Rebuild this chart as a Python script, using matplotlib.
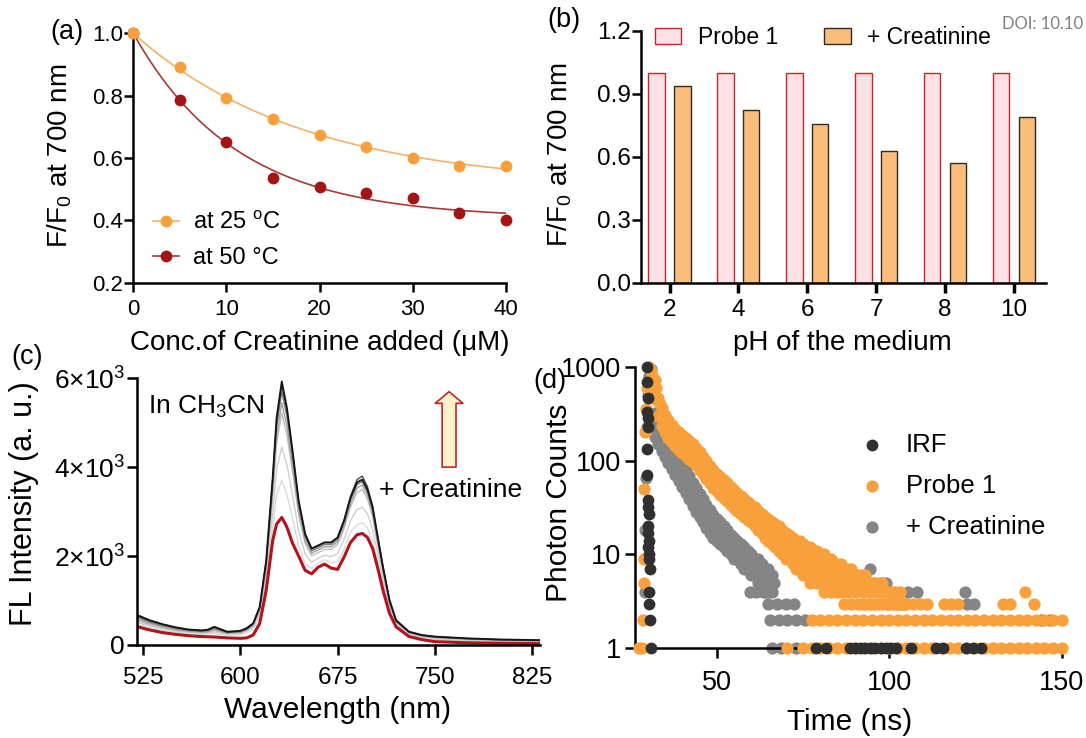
import matplotlib
matplotlib.use("Agg")
import matplotlib.pyplot as plt
import numpy as np

plt.rcParams["font.family"] = ["Liberation Sans", "DejaVu Sans"]
plt.rcParams["mathtext.fontset"] = "custom"
plt.rcParams["mathtext.rm"] = "Liberation Sans"
plt.rcParams["mathtext.it"] = "Liberation Sans:italic"
plt.rcParams["mathtext.bf"] = "Liberation Sans:bold"

W, H = 1086, 738

# ---------------- (a) quenching vs creatinine concentration
conc = [0, 5, 10, 15, 20, 25, 30, 35, 40]
ratio_25 = [1.0, 0.893, 0.791, 0.724, 0.674, 0.636, 0.600, 0.575, 0.574]
ratio_50 = [1.0, 0.786, 0.650, 0.537, 0.508, 0.489, 0.471, 0.425, 0.401]

# ---------------- (b) pH dependence
ph_labels = ["2", "4", "6", "7", "8", "10"]
probe_b = [1.0, 1.0, 1.0, 1.0, 1.0, 1.0]
creat_b = [0.937, 0.822, 0.754, 0.629, 0.570, 0.789]

# ---------------- (c) emission spectra
wl = [521, 530, 540, 550, 560, 570, 575, 580, 590, 600,
      605, 610, 615, 620, 625, 628, 632, 636, 640, 645,
      650, 655, 660, 665, 670, 675, 680, 685, 690, 694,
      698, 702, 706, 710, 715, 720, 730, 740, 750, 775,
      800, 831]
spec_black = [670, 560, 470, 400, 350, 330, 345, 410, 300, 320,
              380, 490, 860, 1900, 3770, 5110, 5930, 5330, 4440, 3250,
              2500, 2170, 2240, 2310, 2310, 2420, 2800, 3320, 3660, 3720,
              3500, 3100, 2420, 1750, 1010, 560, 300, 225, 190, 150,
              125, 110]
spec_g1 = [650, 545, 460, 390, 340, 320, 335, 395, 290, 310,
           370, 480, 850, 1880, 3720, 5050, 5850, 5270, 4390, 3220,
           2480, 2160, 2230, 2300, 2300, 2420, 2810, 3350, 3720, 3800,
           3560, 3120, 2420, 1760, 1010, 555, 295, 220, 185, 145,
           120, 105]
spec_g2 = [620, 520, 440, 375, 330, 310, 322, 375, 280, 300,
           355, 465, 830, 1830, 3620, 4920, 5700, 5140, 4290, 3150,
           2430, 2120, 2190, 2260, 2260, 2370, 2750, 3270, 3610, 3680,
           3450, 3020, 2350, 1710, 980, 540, 285, 210, 175, 140,
           115, 100]
spec_g3 = [580, 490, 415, 355, 315, 295, 305, 350, 270, 285,
           340, 450, 800, 1770, 3480, 4720, 5450, 4920, 4110, 3030,
           2350, 2070, 2140, 2210, 2210, 2320, 2690, 3190, 3530, 3600,
           3380, 2960, 2300, 1670, 960, 530, 280, 205, 170, 135,
           110, 95]
spec_g4 = [540, 460, 390, 335, 300, 280, 288, 320, 260, 275,
           330, 440, 770, 1700, 3350, 4530, 5220, 4720, 3950, 2920,
           2280, 2010, 2080, 2150, 2150, 2260, 2620, 3110, 3430, 3500,
           3290, 2880, 2240, 1620, 930, 515, 270, 195, 160, 125,
           100, 85]
spec_g5 = [500, 430, 365, 315, 285, 265, 270, 290, 245, 260,
           310, 410, 700, 1520, 2960, 3950, 4450, 4050, 3420, 2560,
           2050, 1860, 1950, 2020, 1990, 2060, 2380, 2800, 3050, 3100,
           2950, 2600, 2030, 1470, 850, 475, 245, 170, 130, 100,
           80, 65]
spec_g6 = [460, 390, 330, 290, 260, 240, 245, 250, 220, 230,
           270, 360, 620, 1380, 2600, 3380, 3700, 3380, 2890, 2230,
           1830, 1720, 1840, 1920, 1850, 1870, 2150, 2550, 2700, 2750,
           2630, 2340, 1840, 1340, 780, 440, 220, 150, 110, 85,
           65, 50]
spec_red = [410, 340, 280, 240, 210, 190, 185, 180, 160, 150,
            160, 225, 485, 1230, 2350, 2720, 2870, 2650, 2310, 2000,
            1680, 1600, 1750, 1820, 1730, 1700, 1980, 2310, 2480, 2510,
            2420, 2170, 1720, 1230, 710, 410, 190, 120, 75, 50,
            40, 30]
c_yticks = [0, 2000, 4000, 6000]
c_ytick_labels = ["0", r"$2{\times}10^3$", r"$4{\times}10^3$", r"$6{\times}10^3$"]

# ---------------- (d) lifetime decays (photon counts)
irf_t = [29.8, 29.9, 30.0, 29.9, 30.1, 30.0, 29.7, 29.9, 30.2, 30.0, 30.3,
         30.2, 30.1, 30.3, 30.2, 30.4, 30.3, 30.6, 30.3, 30.5, 30.6, 30.9,
         78.8, 81.7, 88.5, 90.0, 91.5, 93.0, 94.5, 96.0, 97.5, 99.0, 100.5,
         102.0, 106.4, 113.6, 115.5, 122.3, 124.2, 126.5]
irf_c = [1000, 690, 460, 330, 282, 229, 134, 70, 38, 32, 27,
         20, 17, 14, 12, 10, 9, 7, 4, 3, 2, 1,
         1, 1, 1, 1, 1, 1, 1, 1, 1, 1, 1,
         1, 1, 1, 1, 1, 1, 1]

probe_rise_t = [27.4, 28.4, 28.6, 29.0, 28.9, 29.0, 29.3, 29.6, 29.9, 30.3, 30.8, 31.3]
probe_rise_c = [1, 1, 2, 5, 9, 50, 200, 350, 600, 1000, 900, 800]
probe_t = list(range(32, 105))
probe_t_half = [t + 0.5 for t in probe_t]
probe_hi = [720, 460, 360, 305, 268, 240, 218, 202, 186, 173,
            162, 150, 137, 123, 110, 99, 88, 79, 72, 67,
            62, 57, 52, 48, 45, 42, 39, 36, 34, 32,
            29, 27, 25, 24, 22, 21, 20, 18, 17, 16,
            15, 14, 14, 13, 12, 12, 11, 11, 10, 10,
            9, 9, 8, 8, 8, 7, 7, 7, 6, 6,
            6, 6, 5, 5, 5, 5, 5, 4, 4, 4,
            4, 4, 3]
probe_mid = [600, 400, 315, 268, 235, 210, 192, 176, 162, 150,
             140, 130, 118, 106, 95, 85, 76, 68, 62, 57,
             53, 49, 45, 41, 38, 35, 33, 30, 28, 26,
             24, 23, 21, 19, 18, 16, 15, 14, 13, 12,
             10, 11, 9, 10, 8, 9, 7, 8, 7, 8,
             6, 7, 6, 7, 5, 6, 5, 6, 5, 5,
             4, 5, 4, 5, 4, 4, 4, 3, 4, 3,
             3, 3, 3]
probe_lo = [455, 300, 235, 200, 175, 157, 142, 131, 121, 112,
            105, 97, 89, 80, 72, 64, 57, 51, 47, 43,
            40, 37, 34, 31, 29, 27, 25, 23, 22, 20,
            18, 17, 15, 14, 13, 12, 11, 10, 9, 9,
            8, 7, 8, 6, 7, 5, 6, 5, 6, 4,
            5, 4, 5, 4, 4, 3, 4, 3, 4, 3,
            3, 3, 3, 3, 3, 3, 3, 3, 3, 3,
            3, 3, 3]
probe_row3_t = [105, 107, 109, 111, 116, 118, 120, 133, 135, 142]
probe_row4_t = [139.5]
probe_row2_t = [77.5, 80, 82.5, 85, 87.5, 90, 92.5, 95, 97.5, 100,
                102.5, 105, 107.5, 110, 112.5, 115, 117.5, 120, 122.5, 125,
                127.5, 130, 132.5, 135, 137.5, 140, 142.5, 145, 147.5, 150]
probe_row1_t = [70.5, 75, 77.5, 80, 82.5, 85, 87.5, 90, 92.5, 95, 97.5,
                100, 102.5, 105, 107.5, 110, 112.5, 115, 117.5, 120, 122.5,
                125, 127.5, 130, 132.5, 135, 137.5, 140, 142.5, 145, 147.5, 150]

creat_rise_t = [29.1, 29.2, 29.4, 29.7, 30.0, 30.4, 30.8]
creat_rise_c = [4, 18, 65, 230, 500, 800, 950]
creat_t = list(range(32, 67))
creat_t_half = [t + 0.5 for t in creat_t]
creat_hi = [320, 265, 225, 192, 165, 143, 123, 106, 91, 79,
            68, 58, 51, 44, 39, 34, 30, 26, 24, 22,
            20, 18, 16, 15, 14, 13, 12, 11, 10, 9,
            9, 8, 7, 7, 6]
creat_mid = [230, 190, 162, 140, 120, 104, 90, 78, 68, 59,
             51, 44, 38, 33, 29, 25, 22, 20, 18, 17,
             15, 14, 13, 12, 11, 10, 9, 8, 8, 7,
             7, 6, 6, 5, 5]
creat_lo = [180, 150, 128, 110, 95, 82, 70, 60, 52, 45,
            39, 33, 28, 25, 22, 19, 17, 15, 14, 13,
            12, 11, 10, 9, 9, 8, 7, 7, 6, 6,
            5, 5, 4, 4, 4]
creat_row7_t = [94.5]
creat_row5_t = [97.5, 99]
creat_row4_t = [59.5, 61.5, 63.5, 105.5, 108, 122]
creat_row3_t = [65, 67.5, 70, 72.5, 122.5, 124.5]
creat_row2_t = [65.5, 68, 70.5, 73, 75.5, 144, 146.5]
creat_row1_t = [66, 68.5, 73]

ORANGE = "#f7a03c"
GRAY = "#858585"
DARK = "#303030"


def px_rect(left, top, right, bottom):
    return [left / W, 1 - bottom / H, (right - left) / W, (bottom - top) / H]


def style(ax, size, xpad, ypad, length=6.5):
    for s in ("top", "right"):
        ax.spines[s].set_visible(False)
    for s in ("left", "bottom"):
        ax.spines[s].set_linewidth(1.8)
    ax.tick_params(direction="out", length=length, width=1.8, labelsize=size)
    ax.tick_params(axis="x", pad=xpad)
    ax.tick_params(axis="y", pad=ypad)


def one_phase_decay(x, y):
    x = np.asarray(x, float)
    y = np.asarray(y, float)
    best = None
    for k in np.linspace(0.005, 0.5, 1000):
        e = np.exp(-k * x)
        b = 1 - e
        p = np.sum((y - e) * b) / np.sum(b * b)
        err = np.sum((e + p * b - y) ** 2)
        if best is None or err < best[0]:
            best = (err, k, p)
    return best[1], best[2]


fig = plt.figure(figsize=(W / 100, H / 100), dpi=100)

# ===== (a)
ax = fig.add_axes(px_rect(133.3, 33.3, 506, 282.7))
xs = np.linspace(0, 40, 200)
handles = []
for vals, mc, lc in ((ratio_50, "#a31414", "#a33a3a"), (ratio_25, ORANGE, "#f5b06a")):
    k, p = one_phase_decay(conc, vals)
    ln, = ax.plot(xs, p + (1 - p) * np.exp(-k * xs), color=lc, lw=1.2, zorder=2)
    mk, = ax.plot(conc, vals, "o", ms=8.5, color=mc, mec="none", clip_on=False, zorder=3)
    handles.append((ln, mk))
ax.set_xlim(0, 40)
ax.set_ylim(0.2, 1.0)
ax.set_xticks([0, 10, 20, 30, 40])
ax.set_yticks([0.2, 0.4, 0.6, 0.8, 1.0])
ax.yaxis.set_major_formatter(matplotlib.ticker.FormatStrFormatter("%.1f"))
style(ax, 16, 5.5, 1)
ax.legend([handles[1], handles[0]], [r"at 25 $^{\rm o}$C", "at 50 \u00b0C"],
          loc="upper left", bbox_to_anchor=(0.053, 0.285), frameon=False,
          borderpad=0, borderaxespad=0, handlelength=1.1, handletextpad=0.6,
          labelspacing=0.55, fontsize=17)
ax.set_xlabel("Conc.of Creatinine added (\u03bcM)", fontsize=20)
ax.xaxis.set_label_coords(0.5, -0.243)
ax.xaxis.label.set_va("center")
ax.set_ylabel(r"F/F$_\mathrm{0}$ at 700 nm", fontsize=20)
ax.yaxis.set_label_coords(-0.197, 0.509)
ax.yaxis.label.set_va("center")

# ===== (b)
ax = fig.add_axes(px_rect(641, 30.7, 1045.6, 282.7))
xb = np.arange(len(ph_labels))
ax.bar(xb - 0.187, probe_b, width=0.238, color="#fde1e4", edgecolor="#c0282d",
       lw=1, label="Probe 1")
ax.bar(xb + 0.187, creat_b, width=0.238, color="#fbbe7a", edgecolor="#2b2b2b",
       lw=1, label="+ Creatinine")
ax.set_xlim(-0.414, 5.459)
ax.set_ylim(0, 1.2)
ax.set_xticks(xb)
ax.set_xticklabels(ph_labels)
ax.set_yticks([0, 0.3, 0.6, 0.9, 1.2])
ax.yaxis.set_major_formatter(matplotlib.ticker.FormatStrFormatter("%.1f"))
style(ax, 17.5, 5.0, 1)
ax.tick_params(axis="x", width=2.5, length=7)
ax.legend(ncol=2, loc="upper left", bbox_to_anchor=(0.034, 1.02), frameon=False,
          borderpad=0, borderaxespad=0, handlelength=1.15, handleheight=0.7,
          handletextpad=0.74, columnspacing=2.0, fontsize=16.5)
ax.set_xlabel("pH of the medium", fontsize=20)
ax.xaxis.set_label_coords(0.497, -0.24)
ax.xaxis.label.set_va("center")
ax.set_ylabel(r"F/F$_\mathrm{0}$ at 700 nm", fontsize=20)
ax.yaxis.set_label_coords(-0.2, 0.507)
ax.yaxis.label.set_va("center")

# ===== (c)
ax = fig.add_axes(px_rect(137.3, 378.3, 540.1, 645))
grays = [(spec_g6, "#dadada"), (spec_g5, "#cfcfcf"), (spec_g4, "#bdbdbd"),
         (spec_g3, "#a0a0a0"), (spec_g2, "#7a7a7a"), (spec_g1, "#4a4a4a")]
for vals, col in grays:
    ax.plot(wl, vals, color=col, lw=1.0)
ax.plot(wl, spec_black, color="#151515", lw=1.3)
ax.plot(wl, spec_red, color="#b3141b", lw=2.2)
ax.set_xlim(520.7, 831)
ax.set_ylim(0, 6000)
ax.set_xticks([525, 600, 675, 750, 825])
ax.set_yticks(c_yticks)
ax.set_yticklabels(c_ytick_labels)
style(ax, 17.5, 8.5, 2, length=7)
ax.tick_params(axis="y", labelsize=19)
ax.text(0.027, 0.894, r"In CH$_3$CN", transform=ax.transAxes, fontsize=19,
        va="center", ha="left")
ax.text(0.6, 0.581, "+ Creatinine", transform=ax.transAxes, fontsize=19,
        va="center", ha="left")
ax.annotate("", xy=(0.774, 0.95), xytext=(0.774, 0.667),
            xycoords="axes fraction", textcoords="axes fraction",
            arrowprops=dict(arrowstyle="simple,head_length=0.42,head_width=1.0,tail_width=0.5",
                            mutation_scale=20, fc="#fff1c9", ec="#c0282d", lw=1.2,
                            shrinkA=0, shrinkB=0))
ax.set_xlabel("Wavelength (nm)", fontsize=21.5)
ax.xaxis.set_label_coords(0.497, -0.244)
ax.xaxis.label.set_va("center")
ax.set_ylabel("FL Intensity (a. u.)", fontsize=22)
ax.yaxis.set_label_coords(-0.281, 0.531)
ax.yaxis.label.set_va("center")

# ===== (d)
ax = fig.add_axes(px_rect(635, 366.7, 1061.7, 648.3))
creat_x = (creat_rise_t + creat_t + creat_t_half + creat_t + creat_row7_t
           + creat_row5_t + creat_row4_t + creat_row3_t + creat_row2_t + creat_row1_t)
creat_y = (creat_rise_c + creat_hi + creat_mid + creat_lo
           + [7] * len(creat_row7_t) + [5] * len(creat_row5_t)
           + [4] * len(creat_row4_t) + [3] * len(creat_row3_t)
           + [2] * len(creat_row2_t) + [1] * len(creat_row1_t))
probe_x = (probe_rise_t + probe_t + probe_t_half + probe_t + probe_row4_t
           + probe_row3_t + probe_row2_t + probe_row1_t)
probe_y = (probe_rise_c + probe_hi + probe_mid + probe_lo
           + [4] * len(probe_row4_t) + [3] * len(probe_row3_t)
           + [2] * len(probe_row2_t) + [1] * len(probe_row1_t))
s_gray = ax.scatter(creat_x, creat_y, s=78, color=GRAY, lw=0, clip_on=False, zorder=2)
s_org = ax.scatter(probe_x, probe_y, s=78, color=ORANGE, lw=0, clip_on=False, zorder=3)
s_irf = ax.scatter(irf_t, irf_c, s=72, color=DARK, lw=0, clip_on=False, zorder=4)
ax.set_yscale("log")
ax.set_ylim(1, 1000)
ax.set_xlim(26.3, 150)
ax.set_yticks([1, 10, 100, 1000])
ax.set_yticklabels(["1", "10", "100", "1000"])
ax.yaxis.set_minor_locator(matplotlib.ticker.NullLocator())
ax.set_xticks([50, 100, 150])
style(ax, 19.5, 8.6, 3, length=7)
ax.legend([s_irf, s_org, s_gray], ["IRF", "Probe 1", "+ Creatinine"],
          loc="upper left", bbox_to_anchor=(0.532, 0.766), frameon=False,
          borderpad=0, borderaxespad=0, handlelength=0.8, handletextpad=0.9,
          labelspacing=0.66, scatterpoints=1, fontsize=18.5)
ax.set_xlabel("Time (ns)", fontsize=21.5)
ax.xaxis.set_label_coords(0.504, -0.262)
ax.xaxis.label.set_va("center")
ax.set_ylabel("Photon Counts", fontsize=21.5)
ax.yaxis.set_label_coords(-0.178, 0.515)
ax.yaxis.label.set_va("center")

# panel letters and stamp
for lab, x, y in (("(a)", 66.5, 31.7), ("(b)", 563.5, 20), ("(c)", 27, 357), ("(d)", 550, 381)):
    fig.text(x / W, 1 - y / H, lab, fontsize=19.5, ha="center", va="center")
fig.text(1002 / W, 1 - 24 / H, "DOI: 10.10", fontsize=12, color="#808080",
         family="Lato", va="center", ha="left")

fig.savefig("out.png", dpi=100)
